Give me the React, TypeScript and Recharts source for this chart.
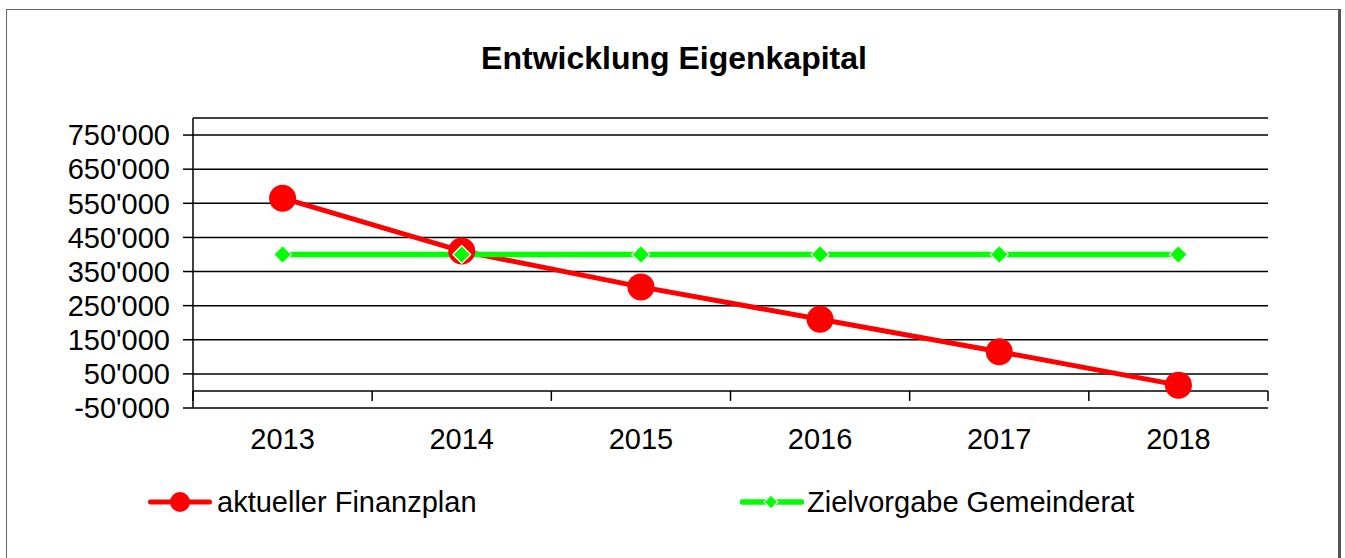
import React from 'react';
import {
  LineChart,
  Line,
  XAxis,
  YAxis,
  CartesianGrid,
  ReferenceLine,
} from 'recharts';

const years = ['2013', '2014', '2015', '2016', '2017', '2018'];
const finanzplan = [565000, 410000, 305000, 210000, 115000, 17000];
const zielvorgabe = [400000, 400000, 400000, 400000, 400000, 400000];
const yTicks = [-50000, 50000, 150000, 250000, 350000, 450000, 550000, 650000, 750000];

const data = years.map((year, i) => ({
  i,
  year,
  finanzplan: finanzplan[i],
  zielvorgabe: zielvorgabe[i],
}));

const xTicks = years.map((_, i) => i);
const boundaries = [...years.map((_, i) => i - 0.5), years.length - 0.5];

const font = "Arial, 'Liberation Sans', sans-serif";

const fmt = (v: number) => `${Math.round(v / 1000)}'000`;

const Diamond = (props: any) => {
  const { cx, cy, key } = props;
  if (cx == null || cy == null) return <g key={key} />;
  const s = 9;
  return (
    <path
      key={key}
      d={`M${cx},${cy - s} L${cx + s},${cy} L${cx},${cy + s} L${cx - s},${cy} Z`}
      fill="#00ff00"
      stroke="#fff"
      strokeWidth={1.2}
    />
  );
};

const TickMark = (props: any) => {
  const { x1, y1 } = props;
  return <line x1={x1} y1={y1} x2={x1} y2={y1 + 10} stroke="#000" strokeWidth={1.5} />;
};

export default function App() {
  return (
    <div
      style={{
        position: 'absolute',
        left: 0,
        top: 0,
        width: 1345,
        height: 558,
        background: '#fff',
        overflow: 'hidden',
        fontFamily: font,
      }}
    >
      <div
        style={{
          position: 'absolute',
          left: 6,
          top: 9,
          width: 1331,
          height: 560,
          borderTop: '1.5px solid #666',
          borderLeft: '1.5px solid #666',
          borderRight: '3px solid #555',
        }}
      />
      <div
        style={{
          position: 'absolute',
          left: 0,
          width: 1348,
          top: 40,
          textAlign: 'center',
          fontWeight: 'bold',
          fontSize: 32,
          lineHeight: '36px',
          color: '#000',
        }}
      >
        Entwicklung Eigenkapital
      </div>
      <LineChart
        width={1345}
        height={558}
        data={data}
        margin={{ top: 118, right: 77, bottom: 110, left: 0 }}
        style={{ position: 'absolute', left: 0, top: 0 }}
      >
        <CartesianGrid vertical={false} stroke="#000" strokeWidth={1.5} />
        <XAxis
          type="number"
          dataKey="i"
          domain={[-0.5, years.length - 0.5]}
          ticks={xTicks}
          interval={0}
          tickFormatter={(i: number) => years[i]}
          axisLine={false}
          tickLine={false}
          height={40}
          tickMargin={14}
          tick={{ fill: '#000', fontSize: 29, fontFamily: font }}
        />
        <YAxis
          type="number"
          domain={[-50000, 800000]}
          ticks={yTicks}
          interval={0}
          tickFormatter={fmt}
          width={193}
          axisLine={{ stroke: '#000', strokeWidth: 1.5 }}
          tickLine={{ stroke: '#000', strokeWidth: 1.5 }}
          tickSize={10}
          tickMargin={13}
          tick={{ fill: '#000', fontSize: 29, fontFamily: font }}
        />
        <ReferenceLine y={0} stroke="#000" strokeWidth={1.5} />
        {boundaries.map((b) => (
          <ReferenceLine
            key={b}
            segment={[
              { x: b, y: 0 },
              { x: b, y: 0 },
            ]}
            shape={TickMark}
          />
        ))}
        <Line
          dataKey="finanzplan"
          stroke="#ff0000"
          strokeWidth={5}
          dot={{ r: 13.5, fill: '#ff0000', stroke: 'none' }}
          activeDot={false}
          isAnimationActive={false}
        />
        <Line
          dataKey="zielvorgabe"
          stroke="#00ff00"
          strokeWidth={5.5}
          dot={Diamond}
          activeDot={false}
          isAnimationActive={false}
        />
      </LineChart>
      <div
        style={{
          position: 'absolute',
          left: 148,
          top: 484,
          display: 'flex',
          alignItems: 'center',
          fontSize: 29,
          color: '#000',
          lineHeight: '36px',
        }}
      >
        <svg width={64} height={36} style={{ marginRight: 5 }}>
          <line x1={2.5} y1={18} x2={61.5} y2={18} stroke="#ff0000" strokeWidth={5} strokeLinecap="round" />
          <circle cx={32} cy={18} r={10} fill="#ff0000" />
        </svg>
        <span>aktueller Finanzplan</span>
      </div>
      <div
        style={{
          position: 'absolute',
          left: 740,
          top: 484,
          display: 'flex',
          alignItems: 'center',
          fontSize: 29,
          color: '#000',
          lineHeight: '36px',
        }}
      >
        <svg width={64} height={36} style={{ marginRight: 3 }}>
          <line x1={2.5} y1={18} x2={61.5} y2={18} stroke="#00ff00" strokeWidth={5.5} strokeLinecap="round" />
          <path d="M31,11 L38,18 L31,25 L24,18 Z" fill="#00ff00" stroke="#fff" strokeWidth={1.2} />
        </svg>
        <span>Zielvorgabe Gemeinderat</span>
      </div>
    </div>
  );
}
